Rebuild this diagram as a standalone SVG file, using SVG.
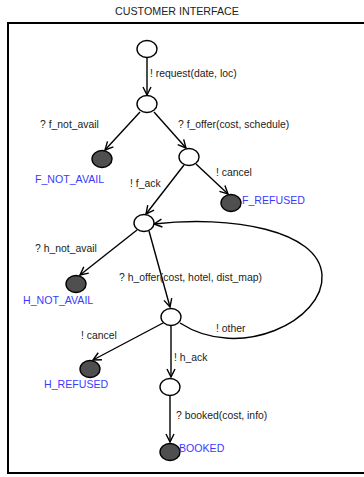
<svg xmlns="http://www.w3.org/2000/svg" width="364" height="477" viewBox="0 0 364 477">
  <style>
    .st { fill: #fff; stroke: #000; stroke-width: 1.4; }
    .fin { fill: #4f4f4f; stroke: #000; stroke-width: 1.4; }
    .edge { fill: none; stroke: #000; stroke-width: 1.4; marker-end: url(#arr); }
    .lbl { font-family: "Liberation Sans", Arial, sans-serif; font-size: 10.4px; fill: #222; }
    .name { font-family: "Liberation Sans", Arial, sans-serif; font-size: 10.6px; fill: #3a3aff; }
  </style>
  <defs>
    <marker id="arr" markerWidth="10" markerHeight="10" refX="9" refY="5" orient="auto" markerUnits="userSpaceOnUse">
      <path d="M1,1 L9,5 L1,9" fill="none" stroke="#000" stroke-width="1.4"/>
    </marker>
  </defs>
  <rect width="364" height="477" fill="#fff"/>
  <text x="177" y="15" text-anchor="middle" class="lbl" style="font-size:10.7px">CUSTOMER INTERFACE</text>
  <path d="M372,23 L8,23 L8,473 L372,473" fill="none" stroke="#000" stroke-width="2"/>

  <g id="connectors">
    <path class="edge" d="M147,57 L147,95"/>
    <path class="edge" d="M140,112 L105,150"/>
    <path class="edge" d="M154,112 L186,148"/>
    <path class="edge" d="M196,164 L228,194"/>
    <path class="edge" d="M184,165 L146,214"/>
    <path class="edge" d="M137,230 L80,275"/>
    <path class="edge" d="M149,231 L170,307"/>
    <path class="edge" d="M163,323 L93,360"/>
    <path class="edge" d="M171,326 L171,377"/>
    <path class="edge" d="M170,396 L170,442"/>
    <path class="edge" d="M180,323 C240,362 325,320 322,275 C319,230 230,215 154,224"/>
  </g>

  <g id="s0"><ellipse class="st" cx="147" cy="49" rx="10" ry="8.5"/></g>
  <g id="s1"><ellipse class="st" cx="147" cy="104" rx="10" ry="8.5"/></g>
  <g id="f_not_avail"><ellipse class="fin" cx="102" cy="159" rx="10" ry="8.5"/><text class="name" x="35" y="183">F_NOT_AVAIL</text></g>
  <g id="s2"><ellipse class="st" cx="189" cy="157" rx="10" ry="8.5"/></g>
  <g id="f_refused"><ellipse class="fin" cx="231" cy="203" rx="10" ry="8.5"/><text class="name" x="242" y="204">F_REFUSED</text></g>
  <g id="s3"><ellipse class="st" cx="144" cy="223" rx="10" ry="8.5"/></g>
  <g id="h_not_avail"><ellipse class="fin" cx="76" cy="284" rx="10" ry="8.5"/><text class="name" x="23" y="304">H_NOT_AVAIL</text></g>
  <g id="s4"><ellipse class="st" cx="171" cy="317" rx="10" ry="8.5"/></g>
  <g id="h_refused"><ellipse class="fin" cx="90" cy="369" rx="10" ry="8.5"/><text class="name" x="44" y="388">H_REFUSED</text></g>
  <g id="s5"><ellipse class="st" cx="170" cy="387" rx="10" ry="8.5"/></g>
  <g id="booked"><ellipse class="fin" cx="170" cy="452" rx="10" ry="8.5"/><text class="name" x="179" y="452">BOOKED</text></g>

  <g id="labels">
    <text class="lbl" x="150" y="77">! request(date, loc)</text>
    <text class="lbl" x="40" y="128">? f_not_avail</text>
    <text class="lbl" x="178" y="128">? f_offer(cost, schedule)</text>
    <text class="lbl" x="130" y="187">! f_ack</text>
    <text class="lbl" x="216" y="176">! cancel</text>
    <text class="lbl" x="35" y="252">? h_not_avail</text>
    <text class="lbl" x="119" y="281">? h_offer(cost, hotel, dist_map)</text>
    <text class="lbl" x="216" y="332">! other</text>
    <text class="lbl" x="81" y="339">! cancel</text>
    <text class="lbl" x="174" y="361">! h_ack</text>
    <text class="lbl" x="176" y="419">? booked(cost, info)</text>
  </g>
</svg>
